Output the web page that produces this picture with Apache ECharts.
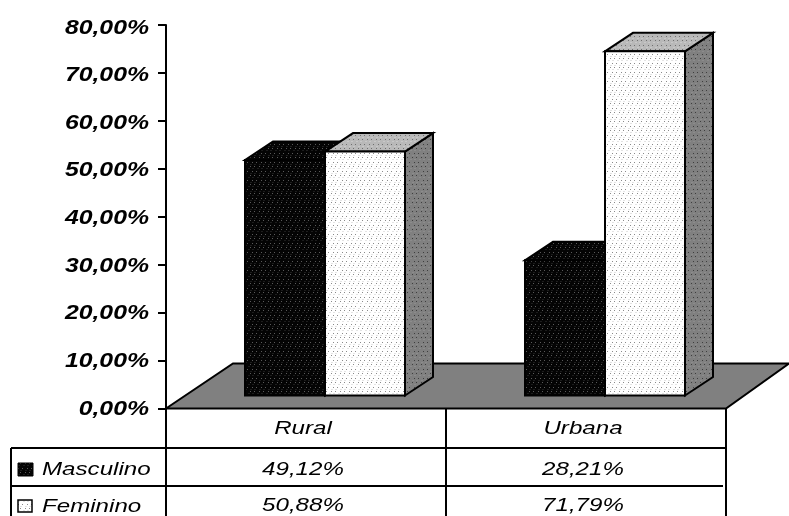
<!DOCTYPE html>
<html>
<head>
<meta charset="utf-8">
<style>html,body{margin:0;padding:0;background:#fff}#chart{width:789px;height:516px}</style>
<script src="https://cdn.jsdelivr.net/npm/echarts@6/dist/echarts.min.js"></script>
</head>
<body>
<div id="chart"></div>
<script>
// Chart data
const categories = ['Rural', 'Urbana'];
const seriesNames = ['Masculino', 'Feminino'];
const masculino = [49.12, 28.21];
const feminino = [50.88, 71.79];
const tickValues = [0, 10, 20, 30, 40, 50, 60, 70, 80];
const tickLabels = ['0,00%', '10,00%', '20,00%', '30,00%', '40,00%', '50,00%', '60,00%', '70,00%', '80,00%'];
const masculinoCells = ['49,12%', '28,21%'];
const femininoCells = ['50,88%', '71,79%'];

// Layout
const W = 789, H = 516;
const GRID = { left: 166, right: 63, top: 25, bottom: 107.5 };
const AXIS_X = GRID.left, FLOOR_Y = H - GRID.bottom, TABLE_R = W - GRID.right;
const ROW_1 = 448, ROW_2 = 486, TABLE_L = 11;
const DEPTH_X = 28, DEPTH_Y = 18.5, BAR_LIFT = 13;
const BAR_W = 80, BAR_SHIFT = 19;
const FONT = '"Liberation Sans", Arial, sans-serif';

// Stippled fills used on the bar faces
function stipple(base, dot, soft) {
  const c = document.createElement('canvas');
  c.width = c.height = 9;
  const g = c.getContext('2d');
  g.fillStyle = base;
  g.fillRect(0, 0, 9, 9);
  if (soft) {
    g.fillStyle = soft;
    [[2, 2], [7, 2], [0, 6], [5, 6]].forEach(p => g.fillRect(p[0], p[1], 2, 1));
  }
  g.fillStyle = dot;
  [[0, 0], [4, 0], [2, 4], [7, 4]].forEach(p => g.fillRect(p[0], p[1], 1, 1));
  return { image: c, repeat: 'repeat' };
}
const FILLS = [
  {
    front: stipple('#040404', '#5a5a5a', '#1c1c1c'),
    top: stipple('#040404', '#5a5a5a', '#1c1c1c'),
    side: stipple('#040404', '#5a5a5a', '#1c1c1c'),
    edge: '#000'
  },
  {
    front: stipple('#ffffff', '#8a8a8a', '#e4e4e4'),
    top: stipple('#b9b9b9', '#6f6f6f', '#c8c8c8'),
    side: stipple('#808080', '#3e3e3e', '#8c8c8c'),
    edge: '#000'
  }
];

function label(text, x, y, opts) {
  const o = opts || {};
  return {
    type: 'text', x, y, scaleX: o.stretch || 1.27, silent: true,
    style: {
      text, fill: '#000', align: o.align || 'center', verticalAlign: 'middle',
      fontFamily: FONT, fontStyle: 'italic',
      fontWeight: o.bold ? 'bold' : 'normal', fontSize: o.size || 19
    }
  };
}

// One 3D bar: front, top and side faces share a baseline set back from the floor edge
function barRenderer(seriesIndex) {
  return function (params, api) {
    const fills = FILLS[seriesIndex];
    const cat = api.value(0), val = api.value(1);
    const cx = api.coord([cat, 0])[0] + BAR_SHIFT;
    const x0 = cx + (seriesIndex === 0 ? -BAR_W : 0), x1 = x0 + BAR_W;
    const yBase = api.coord([cat, 0])[1] - BAR_LIFT;
    const yTop = api.coord([cat, val])[1] - BAR_LIFT;
    const line = { stroke: fills.edge, lineWidth: 2, lineJoin: 'miter' };
    const poly = (pts, fill) => ({
      type: 'polygon', shape: { points: pts },
      style: Object.assign({ fill }, line)
    });
    return {
      type: 'group',
      children: [
        poly([[x1, yBase], [x1 + DEPTH_X, yBase - DEPTH_Y], [x1 + DEPTH_X, yTop - DEPTH_Y], [x1, yTop]], fills.side),
        poly([[x0, yTop], [x0 + DEPTH_X, yTop - DEPTH_Y], [x1 + DEPTH_X, yTop - DEPTH_Y], [x1, yTop]], fills.top),
        poly([[x0, yBase], [x0, yTop], [x1, yTop], [x1, yBase]], fills.front)
      ]
    };
  };
}

const chart = echarts.init(document.getElementById('chart'), null, { renderer: 'canvas' });

chart.setOption({
  animation: false,
  backgroundColor: '#fff',
  grid: GRID,
  xAxis: {
    type: 'category', data: categories,
    axisLine: { show: false }, axisTick: { show: false }, axisLabel: { show: false },
    splitLine: { show: false }
  },
  yAxis: {
    type: 'value', min: 0, max: 80, interval: 10,
    axisLine: { show: true, lineStyle: { color: '#000', width: 2 } },
    axisTick: { show: true, length: 8, lineStyle: { color: '#000', width: 2 } },
    axisLabel: { show: false },
    splitLine: { show: false }
  },
  graphic: {
    elements: [
      // Data table frame below the floor
      ...[
        [AXIS_X, FLOOR_Y, AXIS_X, H],
        [(AXIS_X + TABLE_R) / 2, FLOOR_Y, (AXIS_X + TABLE_R) / 2, H],
        [TABLE_R, FLOOR_Y, TABLE_R, H],
        [TABLE_L, ROW_1, TABLE_L, H],
        [TABLE_L, ROW_1, TABLE_R, ROW_1],
        [TABLE_L, ROW_2, TABLE_R - 3, ROW_2]
      ].map(s => ({
        type: 'line', z: 5, silent: true,
        shape: { x1: s[0], y1: s[1], x2: s[2], y2: s[3] },
        style: { stroke: '#000', lineWidth: 2 }
      }))
    ]
  },
  series: [
    {
      // Floor plane
      type: 'custom', name: 'floor', coordinateSystem: 'cartesian2d', z: 1, silent: true,
      data: [[0, 0]],
      renderItem: function (params, api) {
        const yFront = api.coord([0, 0])[1];
        const xLeft = AXIS_X, xRight = TABLE_R;
        return {
          type: 'polygon',
          shape: { points: [[xLeft, yFront], [xLeft + 67, yFront - 45], [xRight + 63, yFront - 45], [xRight, yFront]] },
          style: { fill: '#808080', stroke: '#000', lineWidth: 2 }
        };
      }
    },
    {
      type: 'custom', name: seriesNames[0], coordinateSystem: 'cartesian2d', z: 3,
      data: masculino.map((v, i) => [i, v]),
      renderItem: barRenderer(0)
    },
    {
      type: 'custom', name: seriesNames[1], coordinateSystem: 'cartesian2d', z: 4,
      data: feminino.map((v, i) => [i, v]),
      renderItem: barRenderer(1)
    },
    {
      // Value axis labels, drifting slightly below their ticks toward the top of the scale
      type: 'custom', name: 'ticks', coordinateSystem: 'cartesian2d', z: 6, silent: true,
      data: tickValues.map((v, i) => [0, v, i]),
      renderItem: function (params, api) {
        const v = api.value(1);
        const y = api.coord([0, v])[1] + 0.5 + v / 32;
        return label(tickLabels[api.value(2)], AXIS_X - 17, y, { align: 'right', bold: true, size: 20, stretch: 1.24 });
      }
    },
    {
      // Data table cells
      type: 'custom', name: 'table', coordinateSystem: 'cartesian2d', z: 6, silent: true,
      data: categories.map((c, i) => [i]),
      renderItem: function (params, api) {
        const i = api.value(0);
        const x = api.coord([i, 0])[0] - 3;
        return {
          type: 'group',
          children: [
            label(categories[i], x, 429),
            label(masculinoCells[i], x, 469.5),
            label(femininoCells[i], x, 506)
          ]
        };
      }
    },
    {
      // Legend keys in the first table column
      type: 'custom', name: 'keys', coordinateSystem: 'cartesian2d', z: 6, silent: true,
      data: [[0]],
      renderItem: function () {
        return {
          type: 'group',
          children: [
            { type: 'rect', shape: { x: 18, y: 463, width: 15, height: 13 }, style: { fill: FILLS[0].front, stroke: '#000', lineWidth: 1 } },
            label(seriesNames[0], 42, 470, { align: 'left' }),
            { type: 'rect', shape: { x: 18, y: 500, width: 14, height: 12 }, style: { fill: FILLS[1].front, stroke: '#000', lineWidth: 1.5 } },
            label(seriesNames[1], 42, 507, { align: 'left' })
          ]
        };
      }
    }
  ]
});
</script>
</body>
</html>
